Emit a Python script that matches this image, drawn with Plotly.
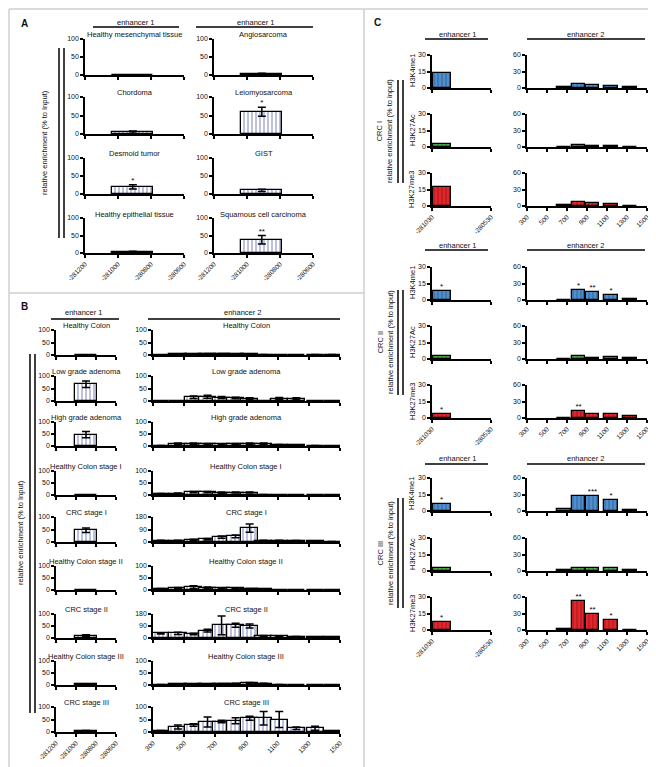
import plotly.graph_objects as go

W, H = 656, 767
FONT = "Liberation Sans, Arial, sans-serif"

# ---------------- Panel A data ----------------
A_titles = ["Healthy mesenchymal tissue", "Angiosarcoma", "Chordoma", "Leiomyosarcoma",
            "Desmoid tumor", "GIST", "Healthy epithelial tissue", "Squamous cell carcinoma"]
A_values = [0.5, 3, 5, 60, 20, 10, 3, 38]
A_errors = [0.3, 2, 3, 12, 6, 3, 2, 12]
A_stars = ["", "", "", "*", "*", "", "", "**"]
A_center = [-280910]
A_width = 250
A_ticks = [-281200, -281000, -280800, -280600]
A_ticktext = ["-281200", "-281000", "-280800", "-280600"]

# ---------------- Panel B data ----------------
B_titles = ["Healthy Colon", "Low grade adenoma", "High grade adenoma", "Healthy Colon stage I",
            "CRC stage I", "Healthy Colon stage II", "CRC stage II", "Healthy Colon stage III",
            "CRC stage III"]
B_e1_center = [-280900]
B_e1_width = 220
B_e1_values = [1, 67, 47, 0.5, 47, 1, 10, 3, 4]
B_e1_errors = [0.5, 13, 13, 0.3, 9, 0.5, 4, 1, 2]

B_e2_centers = [350, 460, 560, 650, 740, 830, 920, 1010, 1110, 1220, 1340, 1450]
B_e2_width = 110
B_e2_values = [
    [0.5, 3, 4, 5, 5, 4, 3, 2, 1, 0.5, 2, 2],
    [0.5, 0.5, 15, 17, 14, 12, 10, 0.5, 10, 10, 0.5, 0.5],
    [2, 10, 10, 8, 7, 8, 9, 10, 5, 3, 2, 1],
    [5, 6, 12, 12, 10, 10, 10, 2, 1, 1, 1, 1],
    [10, 10, 15, 20, 35, 40, 100, 10, 10, 8, 5, 3],
    [5, 8, 12, 10, 7, 7, 5, 3, 1, 1, 1, 1],
    [35, 35, 30, 55, 95, 95, 90, 15, 12, 10, 8, 5],
    [2, 3, 3, 4, 5, 6, 8, 6, 2, 1, 1, 1],
    [5, 20, 28, 40, 42, 45, 55, 55, 50, 15, 15, 3],
]
B_e2_errors = [
    [0, 1, 1, 1, 1, 1, 1, 0, 0, 0, 0, 0],
    [0, 0, 5, 6, 4, 3, 3, 0, 4, 3, 0, 0],
    [0, 3, 3, 2, 2, 2, 3, 3, 1, 1, 0, 0],
    [1, 2, 3, 3, 3, 2, 2, 0, 0, 0, 0, 0],
    [2, 3, 4, 5, 8, 10, 30, 3, 3, 2, 1, 1],
    [1, 2, 6, 3, 2, 2, 1, 1, 0, 0, 0, 0],
    [5, 8, 5, 10, 70, 15, 15, 3, 3, 2, 2, 1],
    [0, 1, 1, 1, 1, 1, 2, 1, 0, 0, 0, 0],
    [1, 8, 5, 20, 5, 12, 8, 27, 32, 5, 8, 1],
]
B_e2_ymax = [100, 100, 100, 100, 180, 100, 180, 100, 100]
B_e1_ticks = [-281200, -281000, -280800, -280600]
B_e2_ticks = [300, 500, 700, 900, 1100, 1300, 1500]

# ---------------- Panel C data ----------------
C_groups = ["CRC I", "CRC II", "CRC III"]
C_marks = ["H3K4me1", "H3K27Ac", "H3K27me3"]
C_colors = ["#4d8fd1", "#4caa4c", "#e3262b"]
C_e1_center = [-280948]
C_e1_width = 155
C_e1_values = [[14, 3, 17], [8, 3, 4], [6, 3, 7]]
C_e1_stars = [["", "", ""], ["*", "", "*"], ["*", "", "*"]]
C_e2_centers = [670, 815, 955, 1140, 1330]
C_e2_width = 135
C_e2_values = [
    [[1.5, 8, 6, 3, 2], [0.5, 4, 2, 1, 0.3], [1, 8, 6, 3, 0.3]],
    [[0.3, 18, 14, 10, 2], [0.3, 5, 1, 4, 2], [0.3, 12, 8, 8, 3]],
    [[4, 27, 27, 20, 1], [1, 5, 6, 6, 1], [1, 52, 30, 18, 0.3]],
]
C_e2_stars = [
    [["", "", "", "", ""], ["", "", "", "", ""], ["", "", "", "", ""]],
    [["", "*", "**", "*", ""], ["", "", "", "", ""], ["", "**", "", "", ""]],
    [["", "", "***", "*", ""], ["", "", "", "", ""], ["", "**", "**", "*", ""]],
]
C_e1_ticks = [-281030, -280530]
C_e2_ticks = [300, 500, 700, 900, 1100, 1300, 1500]

# ---------------- helpers ----------------
fig = go.Figure()
layout_axes = {}
shapes = []
annotations = []
count = [0]


def fx(x):
    return x / W


def fy(y):
    return 1 - y / H


def add_axes(xpx, ypx, xrange, xticks, xticktext, show_xlabels, yrange, yticks):
    count[0] += 1
    n = count[0]
    sx = "" if n == 1 else str(n)
    common = dict(showline=True, linecolor="black", linewidth=1.5, ticks="outside",
                  ticklen=3, tickwidth=1.5, tickcolor="black", showgrid=False,
                  zeroline=False, fixedrange=True, automargin=False,
                  tickfont=dict(size=7, family=FONT, color="#111111"))
    layout_axes["xaxis" + sx] = dict(
        common, domain=[fx(xpx[0]), fx(xpx[1])], anchor="y" + sx, range=xrange,
        tickvals=xticks, ticktext=xticktext, showticklabels=show_xlabels,
        tickangle=-45, tickfont=dict(size=6.5, family=FONT, color="#111111"))
    layout_axes["yaxis" + sx] = dict(
        common, domain=[fy(ypx[1]), fy(ypx[0])], anchor="x" + sx, range=yrange,
        tickvals=yticks)
    return "x" + sx, "y" + sx


def text(x, y, s, size=7.5, angle=0, bold=False):
    annotations.append(dict(x=fx(x), y=fy(y), xref="paper", yref="paper",
                            text=("<b>%s</b>" % s) if bold else s,
                            showarrow=False, textangle=angle,
                            font=dict(size=size, family=FONT, color="#111111"),
                            xanchor="center", yanchor="middle"))


def line(x0, y0, x1, y1, color="black", width=1.5):
    shapes.append(dict(type="line", xref="paper", yref="paper", x0=fx(x0), y0=fy(y0),
                       x1=fx(x1), y1=fy(y1), line=dict(color=color, width=width)))


def striped_bars(xa, ya, centers, values, width, errors=None, color="white",
                 fg="#3f4fa3", stars=None, solidity=0.35):
    tr = dict(x=centers, y=values, width=[width] * len(centers), xaxis=xa, yaxis=ya,
              showlegend=False, hoverinfo="skip",
              marker=dict(color=color, line=dict(color="black", width=1.3),
                          pattern=dict(shape="|", fgcolor=fg, bgcolor=color, size=4,
                                       solidity=solidity, fillmode="overlay")))
    if errors is not None:
        tr["error_y"] = dict(type="data", array=errors, visible=True, color="black",
                             thickness=1.5, width=4)
    fig.add_trace(go.Bar(**tr))
    if stars is not None:
        sx, sy, st = [], [], []
        for i, s in enumerate(stars):
            if s:
                sx.append(centers[i])
                sy.append(values[i] + (errors[i] if errors is not None else 0))
                st.append(s)
        if sx:
            fig.add_trace(go.Scatter(x=sx, y=sy, mode="text", text=st, textposition="top center",
                                     textfont=dict(size=8, family=FONT, color="black"),
                                     xaxis=xa, yaxis=ya, showlegend=False, hoverinfo="skip",
                                     cliponaxis=False))


# ---------------- Panel A ----------------
A_cols = [(77, 176), (206, 305)]
A_rows = [(31, 67), (89, 126), (150, 186), (210, 245)]
for i in range(8):
    r, c = divmod(i, 2)
    xa, ya = add_axes(A_cols[c], A_rows[r], [-281200, -280600], A_ticks, A_ticktext,
                      r == 3, [0, 100], [0, 50, 100])
    striped_bars(xa, ya, A_center, [A_values[i]], A_width, [A_errors[i]], stars=[A_stars[i]])
    text((A_cols[c][0] + A_cols[c][1]) / 2, A_rows[r][0] - 4, A_titles[i])
for (x0, x1), tx in zip([(85, 171), (188, 305)], [128, 248]):
    text(tx, 14, "enhancer 1")
    line(x0, 19, x1, 19)
line(51, 40, 51, 230)
line(56, 40, 56, 230)
text(37, 135, "relative enrichment (% to Input)", angle=-90)
text(16, 16, "A", size=10, bold=True)

# ---------------- Panel B ----------------
B_cols = [(48, 108), (145, 332)]
B_tops = [322, 368, 414, 463, 509, 558, 606, 653, 699]
B_bots = [347, 393, 438, 487, 534, 582, 630, 677, 724]
for r in range(9):
    last = r == 8
    xa, ya = add_axes(B_cols[0], (B_tops[r], B_bots[r]), [-281200, -280600], B_e1_ticks,
                      A_ticktext, last, [0, 100], [0, 50, 100])
    striped_bars(xa, ya, B_e1_center, [B_e1_values[r]], B_e1_width, [B_e1_errors[r]])
    text(78, B_tops[r] - 5, B_titles[r])
    ym = B_e2_ymax[r]
    xa, ya = add_axes(B_cols[1], (B_tops[r], B_bots[r]), [300, 1500], B_e2_ticks,
                      [str(t) for t in B_e2_ticks], last, [0, ym], [0, ym / 2, ym])
    striped_bars(xa, ya, B_e2_centers, B_e2_values[r], B_e2_width, B_e2_errors[r])
    text(238, B_tops[r] - 5, B_titles[r])
text(76, 304, "enhancer 1")
line(43, 311, 111, 311)
text(235, 304, "enhancer 2")
line(140, 311, 332, 311)
line(22, 346, 22, 705)
line(27, 346, 27, 705)
text(12, 525, "relative enrichment (% to Input)", angle=-90)
text(16, 298, "B", size=10, bold=True)

# ---------------- Panel C ----------------
C_cols = [(424, 483), (519, 639)]
C_tops = [[47, 106, 165], [259, 318, 377], [470, 530, 589]]
C_head = [(27, 31), (237, 242), (450, 456)]
C_glines = [(72, 175), (282, 387), (490, 600)]
C_gcent = [123, 334, 545]
for g in range(3):
    for m in range(3):
        top = C_tops[g][m]
        rows = (top, top + 33)
        last = m == 2
        xa, ya = add_axes(C_cols[0], rows, [-281030, -280530], C_e1_ticks,
                          [str(t) for t in C_e1_ticks], last, [0, 30], [0, 15, 30])
        striped_bars(xa, ya, C_e1_center, [C_e1_values[g][m]], C_e1_width,
                     color=C_colors[m], fg="rgba(0,0,0,0.6)", stars=[C_e1_stars[g][m]],
                     solidity=0.25)
        xa, ya = add_axes(C_cols[1], rows, [300, 1500], C_e2_ticks,
                          [str(t) for t in C_e2_ticks], last, [0, 60], [0, 30, 60])
        striped_bars(xa, ya, C_e2_centers, C_e2_values[g][m], C_e2_width,
                     color=C_colors[m], fg="rgba(0,0,0,0.6)", stars=C_e2_stars[g][m],
                     solidity=0.25)
        text(404, top + 16, C_marks[m], angle=-90)
    ty, ly = C_head[g]
    text(450, ty, "enhancer 1")
    line(417, ly, 480, ly)
    text(578, ty, "enhancer 2")
    line(519, ly, 637, ly)
    y0, y1 = C_glines[g]
    line(390, y0, 390, y1)
    line(395, y0, 395, y1)
    text(377, C_gcent[g], C_groups[g] + "<br>relative enrichment (% to input)", angle=-90)
text(369, 14, "C", size=10, bold=True)

# ---------------- borders ----------------
GRAY = "#cfcfcf"
line(1, 1, 655, 1, GRAY, 1.5)
line(1, 1, 1, 765, GRAY, 1.5)
line(655, 1, 655, 765, GRAY, 1.5)
line(1, 765, 655, 765, GRAY, 1.5)
line(356, 1, 356, 765, GRAY, 1.5)
line(1, 285, 356, 285, GRAY, 1.5)

fig.update_layout(width=W, height=H, margin=dict(l=0, r=0, t=0, b=0, pad=0),
                  paper_bgcolor="white", plot_bgcolor="white", showlegend=False,
                  bargap=0, barmode="overlay",
                  font=dict(family=FONT, color="black"),
                  shapes=shapes, annotations=annotations, **layout_axes)
fig.write_html("out.html")
